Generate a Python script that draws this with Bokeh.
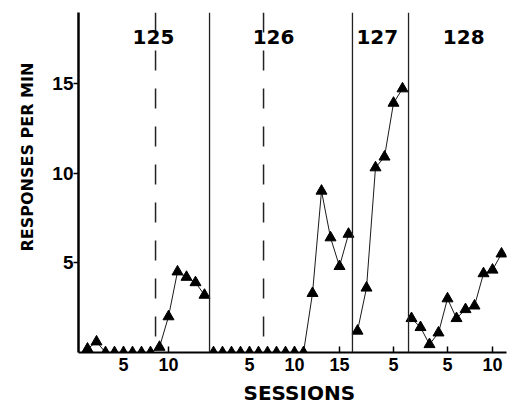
from bokeh.plotting import figure
from bokeh.models import Span, Label, FixedTicker, Range1d, ColumnDataSource, Title
from bokeh.embed import file_html
from bokeh.resources import INLINE

# ---- data ----
subjects = ["125", "126", "127", "128"]
rate_125 = [0.2, 0.6, 0.0, 0.0, 0.0, 0.0, 0.0, 0.0, 0.3, 2.0, 4.5, 4.2, 3.9, 3.2]
rate_126 = [0.0, 0.0, 0.0, 0.0, 0.0, 0.0, 0.0, 0.0, 0.0, 0.0, 0.0, 3.3, 9.0, 6.4, 4.8, 6.6]
rate_127 = [1.2, 3.6, 10.3, 10.9, 13.9, 14.7]
rate_128 = [1.9, 1.4, 0.45, 1.1, 3.0, 1.9, 2.4, 2.6, 4.4, 4.6, 5.5]
phase_change_session = [8.56, 6.56, None, None]
session_ticks = [[5, 10], [5, 10, 15], [5], [5, 10]]
y_ticks = [5, 10, 15]

# ---- layout of panels along the shared session axis ----
panel_origin = [0.0, 14.0, 30.0, 36.0]
panel_end = [14.56, 16.44, 6.67, None]   # boundary after the panel, in sessions
label_pos = [8.33, 7.67, 3.2, 6.8]       # panel title position, in sessions
X_END = 428 / 9.0
Y_END = 341 / 18.0

p = figure(width=508, height=409, output_backend="svg", toolbar_location=None,
           x_range=Range1d(0, X_END), y_range=Range1d(0, Y_END),
           min_border_left=78, min_border_right=2, min_border_top=12, min_border_bottom=56)
p.outline_line_color = None
p.grid.visible = False
p.background_fill_color = "white"

rates = [rate_125, rate_126, rate_127, rate_128]
ticks = []
overrides = {}
for i, r in enumerate(rates):
    xs = [panel_origin[i] + s for s in range(1, len(r) + 1)]
    src = ColumnDataSource(dict(x=xs, y=r))
    p.line("x", "y", source=src, line_color="#1a1a1a", line_width=1)
    p.scatter("x", "y", source=src, marker="triangle", size=11,
              fill_color="black", line_color="black")
    for t in session_ticks[i]:
        tx = panel_origin[i] + t
        ticks.append(tx)
        overrides[tx] = str(t)
    if panel_end[i] is not None:
        p.add_layout(Span(location=panel_origin[i] + panel_end[i], dimension="height",
                          line_color="#222222", line_width=1.3))
    if phase_change_session[i] is not None:
        p.add_layout(Span(location=panel_origin[i] + phase_change_session[i], dimension="height",
                          line_color="#222222", line_width=1.5, line_dash="20 18"))
    p.add_layout(Label(x=panel_origin[i] + label_pos[i], y=17.6, text=subjects[i],
                       text_font="DejaVu Sans", text_font_style="bold", text_font_size="20px",
                       text_align="center", text_baseline="middle", text_color="black"))

p.xaxis.ticker = FixedTicker(ticks=ticks)
p.xaxis.major_label_overrides = overrides
p.xaxis.major_tick_in = 6
p.xaxis.major_tick_out = 0
p.xaxis.minor_tick_line_color = None
p.xaxis.axis_line_width = 2
p.xaxis.major_tick_line_width = 1.5
p.xaxis.major_label_standoff = 5
p.xaxis.major_label_text_font = "Liberation Sans"
p.xaxis.major_label_text_font_style = "bold"
p.xaxis.major_label_text_font_size = "18px"
p.xaxis.major_label_text_color = "black"

p.yaxis.ticker = FixedTicker(ticks=y_ticks)
p.yaxis.major_tick_in = 0
p.yaxis.major_tick_out = 5
p.yaxis.minor_tick_line_color = None
p.yaxis.axis_line_width = 2.5
p.yaxis.major_tick_line_width = 1.5
p.yaxis.major_label_standoff = 0
p.yaxis.major_label_text_font = "Liberation Sans"
p.yaxis.major_label_text_font_style = "bold"
p.yaxis.major_label_text_font_size = "19px"
p.yaxis.major_label_text_color = "black"
p.axis.axis_line_color = "black"
p.axis.major_tick_line_color = "black"

p.add_layout(Title(text="RESPONSES PER MIN", align="left", offset=101, standoff=25,
                   text_font="DejaVu Sans", text_font_style="bold", text_font_size="16px",
                   text_color="black"), "left")
p.add_layout(Title(text="SESSIONS", align="left", offset=165, standoff=10,
                   text_font="DejaVu Sans", text_font_style="bold", text_font_size="20px",
                   text_color="black"), "below")

open("out.html", "w").write(file_html(p, INLINE))
